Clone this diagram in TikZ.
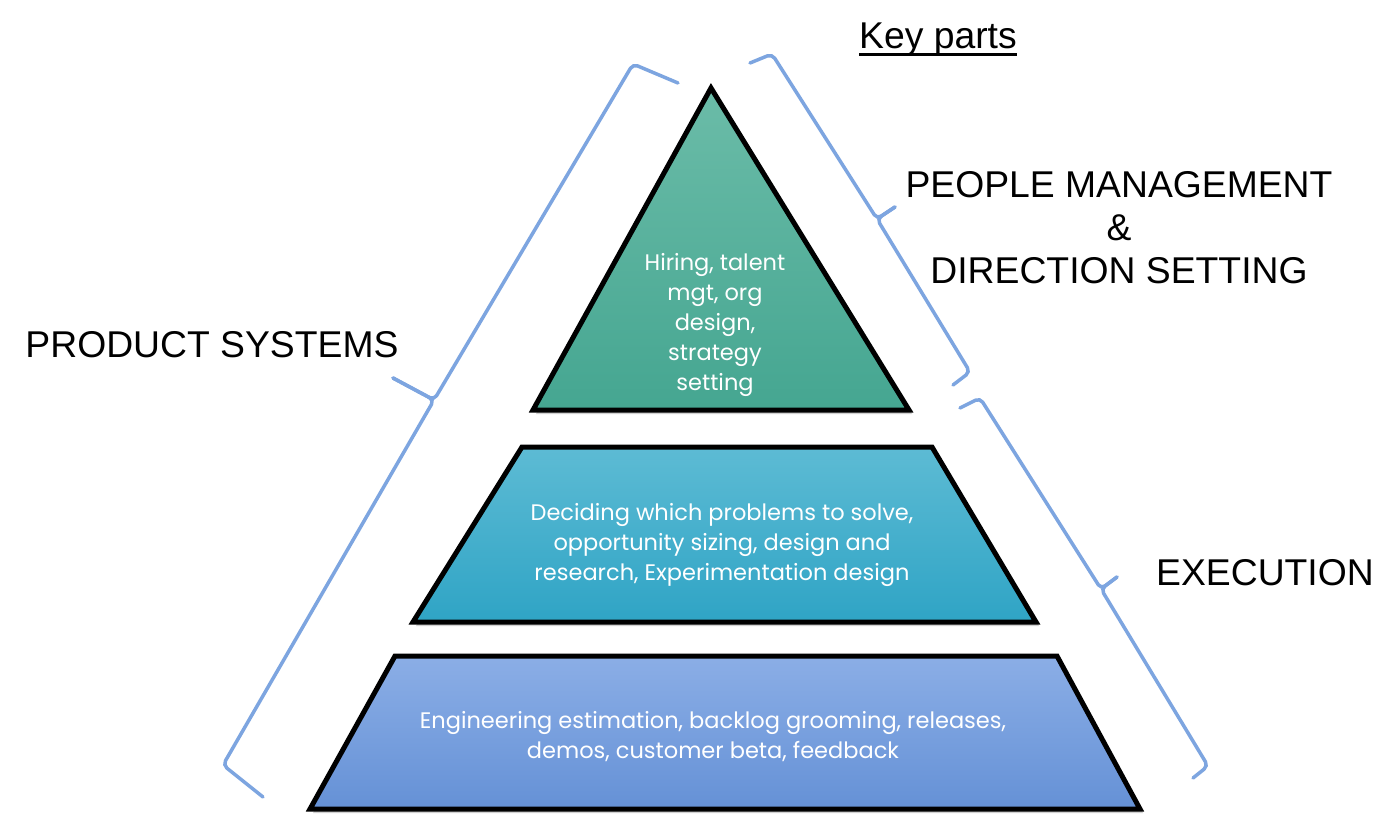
\documentclass[tikz,border=0pt]{standalone}
\usepackage{fontspec}
\setmainfont{Liberation Sans}
\newfontfamily\tierfont{Poppins}
\definecolor{braceblue}{HTML}{7DA5E0}
\definecolor{topA}{HTML}{6BBCA8}
\definecolor{topB}{HTML}{45A691}
\definecolor{midA}{HTML}{5DBBD4}
\definecolor{midB}{HTML}{2FA4C5}
\definecolor{botA}{HTML}{8BAEE6}
\definecolor{botB}{HTML}{6591D6}
\begin{document}
\begin{tikzpicture}[x=1pt,y=-1pt,
  brace/.style={draw=braceblue, line width=3.5pt, rounded corners=5pt, line cap=round},
  tier/.style={draw=black, line width=5pt, line join=miter},
  tiershadow/.style={fill=black, opacity=0.18},
  bigtext/.style={font=\fontsize{37.3}{44}\selectfont, anchor=base, inner sep=0pt},
  tiertext/.style={font=\tierfont\fontsize{22.5}{30}\selectfont, text=white, align=center, inner sep=0pt}]
\useasboundingbox (0,0) rectangle (1400,827);
\fill[white] (0,0) rectangle (1400,827);

% shadows
\begin{scope}[shift={(3,4)}]
  \fill[tiershadow] (711,88) -- (909,410) -- (533,410) -- cycle;
  \fill[tiershadow] (522,447) -- (932,447) -- (1036,622) -- (413,622) -- cycle;
  \fill[tiershadow] (395,656) -- (1057,656) -- (1140,809) -- (310,809) -- cycle;
\end{scope}

% tiers
\path[tier, top color=topA, bottom color=topB] (711,88) -- (909,410) -- (533,410) -- cycle;
\path[tier, top color=midA, bottom color=midB] (522,447) -- (932,447) -- (1036,622) -- (413,622) -- cycle;
\path[tier, top color=botA, bottom color=botB] (395,656) -- (1057,656) -- (1140,809) -- (310,809) -- cycle;

\node[tiertext] (toptxt) at (715,325) {Hiring, talent\\mgt, org\\design,\\strategy\\setting};
\node[tiertext] (midtxt) at (722,545) {Deciding which problems to solve,\\opportunity sizing, design and\\research, Experimentation design};
\node[tiertext] (bottxt) at (713,737) {Engineering estimation, backlog grooming, releases,\\demos, customer beta, feedback};

% braces
\draw[brace] (678,83) -- (633,64) -- (434,400) -- (393,378);
\draw[brace] (393,378) -- (434,400) -- (223,765) -- (263,797);

\draw[brace] (750,63) -- (772,54) -- (877,219) -- (895,207);
\draw[brace] (895,207) -- (877,219) -- (970,372) -- (953,385);

\draw[brace] (960,408) -- (980,398) -- (1101,589) -- (1117,577);
\draw[brace] (1117,577) -- (1101,589) -- (1208,766) -- (1193,778);

% labels
\node[bigtext] (key) at (938,48) {Key parts};
\draw[line width=2.6pt] ([yshift=-6.5pt]key.base west) -- ([yshift=-6.5pt]key.base east);
\node[bigtext] (people) at (1119,197) {PEOPLE MANAGEMENT};
\node[bigtext] (amp) at (1119,240) {\&};
\node[bigtext] (dir) at (1119,283) {DIRECTION SETTING};
\node[bigtext] (prod) at (212,357) {PRODUCT SYSTEMS};
\node[bigtext] (exec) at (1265,585) {EXECUTION};
\end{tikzpicture}
\end{document}
